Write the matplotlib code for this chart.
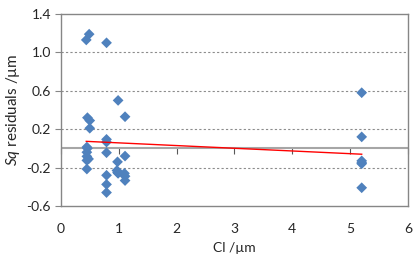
import numpy as np
import matplotlib
matplotlib.use("Agg")
from matplotlib import pyplot as plt

plt.rcParams['font.family'] = ['Lato', 'DejaVu Sans']
plt.rcParams['mathtext.fontset'] = 'custom'
plt.rcParams['mathtext.it'] = 'Lato:italic'
plt.rcParams['mathtext.rm'] = 'Lato'

# residuals, grouped by Cl value
cl = [0.44, 0.49, 0.46, 0.50, 0.50, 0.45, 0.46, 0.45, 0.45, 0.48, 0.45, 0.45,
      0.79, 0.79, 0.79, 0.79, 0.79, 0.79, 0.79,
      0.99, 0.98, 0.97, 0.99, 0.98,
      1.11, 1.11, 1.10, 1.11, 1.11,
      5.20, 5.20, 5.20, 5.20, 5.20, 5.20]
sq_res = [1.13, 1.19, 0.32, 0.29, 0.21, 0.014, 0.0, -0.04, -0.083, -0.11, -0.125, -0.215,
          1.10, 0.094, 0.066, -0.045, -0.28, -0.375, -0.46,
          0.50, -0.14, -0.23, -0.26, -0.25,
          0.33, -0.08, -0.26, -0.29, -0.335,
          0.58, 0.12, -0.13, -0.15, -0.16, -0.41]

yticks = [-0.6, -0.2, 0.2, 0.6, 1.0, 1.4]
xticks = [0, 1, 2, 3, 4, 5, 6]

fig = plt.figure(figsize=(4.2, 2.58), dpi=100)
ax = fig.add_axes([0.1448, 0.2016, 0.8266, 0.7441])

txt = '#262626'
edge = '#868686'

ax.set_xlim(0, 6)
ax.set_ylim(-0.6, 1.4)
ax.set_yticks(yticks)
ax.set_yticklabels([f'{v:.1f}' for v in yticks])
ax.set_xticks(xticks)

for g in yticks[1:-1]:
    ax.axhline(g, color='#8c8c8c', lw=0.8, ls=(0, (2, 2)), zorder=1)

for s in ax.spines.values():
    s.set_color(edge)
    s.set_linewidth(1.0)

ax.tick_params(axis='y', direction='out', length=4, color=edge, labelsize=10, labelcolor=txt, pad=3)
ax.tick_params(axis='x', length=0, labelsize=10, labelcolor=txt, pad=12)

# horizontal axis crossing at zero, with its tick marks
ax.axhline(0, color='#a6a6a6', lw=1.5, zorder=2)
sec = ax.secondary_xaxis(0.3)
sec.set_xticks(xticks)
sec.tick_params(direction='out', length=4, color='#595959', width=0.8, labelbottom=False)
sec.spines['bottom'].set_visible(False)

ax.scatter(cl, sq_res, marker='D', s=30, color='#4f81bd', edgecolors='none', zorder=3)

# linear trend line over the data range
k, b = np.polyfit(cl, sq_res, 1)
xs = np.array([min(cl), max(cl)])
ax.plot(xs, k * xs + b, color='#ff0000', lw=1.0, zorder=4)

ax.set_xlabel('Cl /µm', fontsize=10, color=txt, labelpad=5)
ax.set_ylabel(r'$\mathit{Sq}$ residuals /µm', fontsize=11, color=txt, labelpad=3)

fig.savefig('out.png', dpi=100)
